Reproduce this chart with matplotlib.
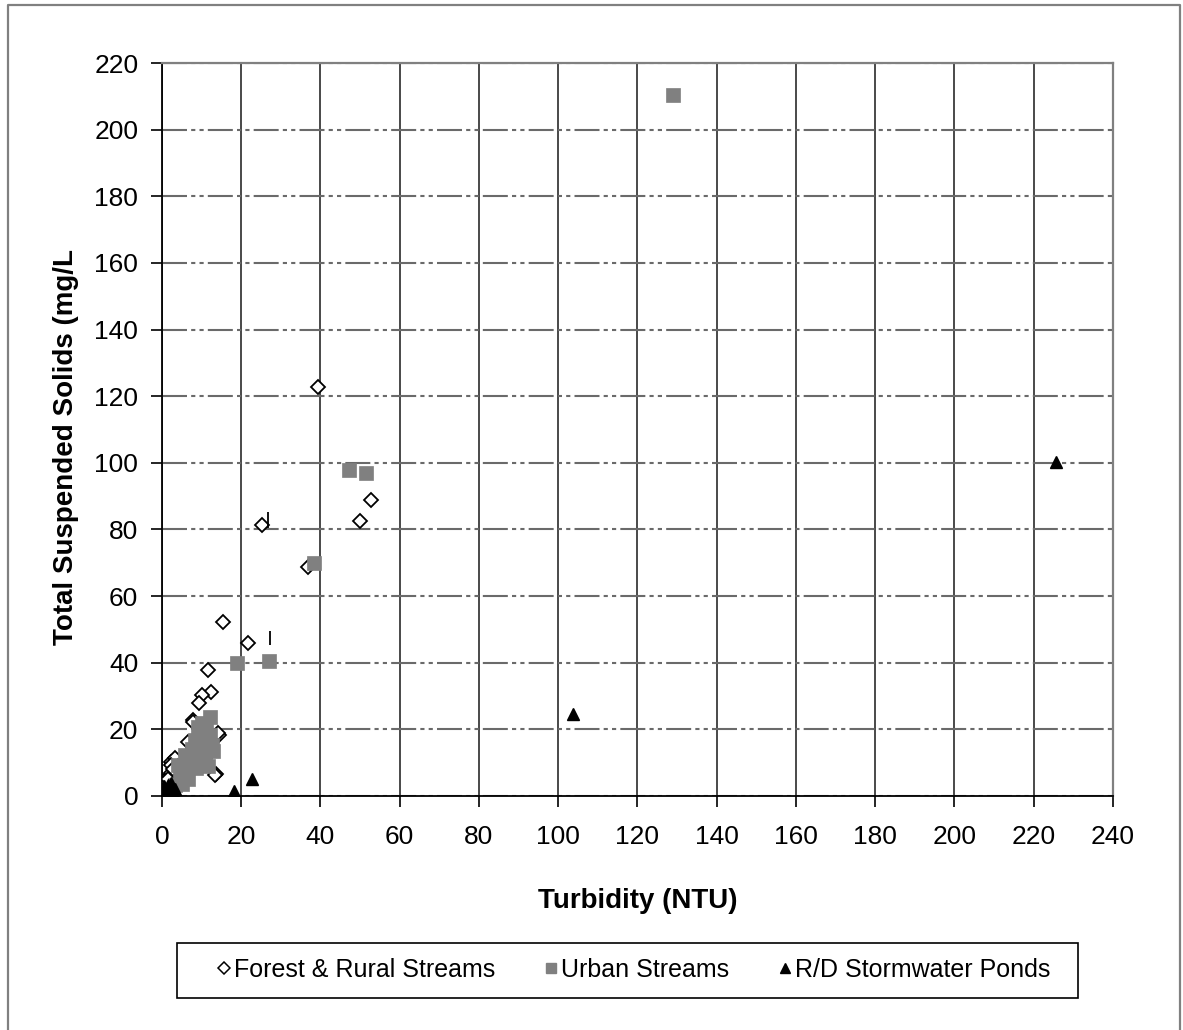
import matplotlib.pyplot as plt
from matplotlib.lines import Line2D
from matplotlib.patches import Rectangle

plt.rcParams['font.family'] = ['Liberation Sans', 'DejaVu Sans']

# Forest & Rural Streams
forest_x = [39.4, 25.2, 50.0, 52.7, 36.8, 15.4, 21.8, 11.5, 12.5, 10.2, 9.4, 14.5, 13.6,
            7.8, 2.4, 14.2, 12.5, 13.4, 7.9, 6.6, 3.3, 2.4,
            0.5, 1.0, 1.5, 2.0, 2.5, 3.0, 0.8, 1.2, 2.0, 3.5, 1.8, 0.3, 4.0,
            1.3, 2.2, 2.8, 0.6, 1.6, 3.8, 2.6, 0.9]
forest_y = [122.7, 81.3, 82.5, 88.8, 68.7, 52.2, 45.8, 37.8, 31.2, 30.3, 27.9, 18.3, 6.6,
            22.8, 10.3, 18.8, 13.3, 6.3, 22.3, 16.3, 11.4, 9.3,
            0.5, 1.5, 2.5, 4.0, 5.5, 7.0, 3.0, 0.8, 2.0, 4.5, 6.0, 1.8, 9.0,
            3.5, 6.8, 8.2, 2.2, 5.0, 2.8, 1.2, 0.2]

# Urban Streams
urban_x = [129.0, 47.2, 51.5, 38.4, 18.9, 27.0,
           12.1, 11.2, 10.9, 9.1, 8.3, 9.6, 12.6, 12.1, 13.0, 9.6, 7.1, 10.9, 5.8, 4.0,
           5.8, 4.5, 3.3, 2.0, 8.5, 6.5, 11.5, 7.5, 10.0, 5.0]
urban_y = [210.4, 97.8, 96.9, 69.9, 39.9, 40.5,
           23.7, 20.5, 18.9, 20.7, 16.8, 15.3, 15.3, 18.3, 13.5, 12.3, 10.8, 10.2, 12.3, 9.3,
           7.8, 6.3, 3.3, 1.8, 8.5, 5.0, 9.0, 14.0, 22.0, 3.5]

# R/D Stormwater Ponds
ponds_x = [225.6, 103.7, 22.7, 18.2, 0.3, 0.6, 1.0, 1.5, 2.0, 0.5, 2.5, 1.2, 0.8, 3.0, 1.8,
           1.4, 2.2, 0.4, 3.4]
ponds_y = [100.2, 24.6, 5.1, 1.5, 0.2, 0.5, 0.8, 1.0, 1.5, 1.5, 2.5, 2.0, 0.1, 0.8, 0.3,
           3.2, 4.0, 3.0, 2.0]

# small stray vertical marks in the original
marks_x = [27.2, 26.8]
marks_y0 = [45.3, 80.3]
marks_y1 = [49.6, 85.3]

fig = plt.figure(figsize=(11.83, 10.30), dpi=100)
ax = fig.add_axes([0.1369, 0.2272, 0.8039, 0.7116])

ax.plot(forest_x, forest_y, 'D', ms=7.5, mfc='white', mec='black', mew=1.3, zorder=3)
ax.plot(urban_x, urban_y, 's', ms=10.5, mfc='#808080', mec='#808080', mew=0.5, zorder=4)
ax.plot(ponds_x, ponds_y, '^', ms=9, mfc='black', mec='black', zorder=5)
ax.vlines(marks_x, marks_y0, marks_y1, colors='black', lw=1.3, zorder=5)

ax.set_xlim(0, 240)
ax.set_ylim(0, 220)
ax.set_xticks(range(0, 241, 20))
ax.set_yticks(range(0, 221, 20))
ax.xaxis.grid(True, color='#3a3a3a', lw=1.3, ls='-', zorder=1)
ax.yaxis.grid(True, color='#6a6a6a', lw=1.5, dashes=(12, 2, 2, 2, 2, 2), zorder=1)
ax.set_axisbelow(True)
ax.tick_params(axis='both', labelsize=19, length=8, width=1.2, direction='out')
ax.tick_params(axis='y', pad=9)
ax.tick_params(axis='x', pad=13)
for s in ['left', 'bottom']:
    ax.spines[s].set_color('black')
    ax.spines[s].set_linewidth(1.3)
for s in ['top', 'right']:
    ax.spines[s].set_color('#808080')
    ax.spines[s].set_linewidth(1.6)

ax.set_xlabel('Turbidity (NTU)', fontsize=20, fontweight='bold')
ax.set_ylabel('Total Suspended Solids (mg/L', fontsize=20, fontweight='bold')
ax.xaxis.set_label_coords(0.5, -0.1255)
ax.yaxis.set_label_coords(-0.087, 0.476)

handles = [
    Line2D([], [], ls='none', marker='D', ms=6, mfc='white', mec='black', mew=1.1),
    Line2D([], [], ls='none', marker='s', ms=7.5, mfc='#808080', mec='#808080'),
    Line2D([], [], ls='none', marker='^', ms=7.5, mfc='black', mec='black'),
]
labels = ['Forest & Rural Streams', 'Urban Streams', 'R/D Stormwater Ponds']
fig.legend(handles, labels, loc='center', bbox_to_anchor=(634 / 1183, 1 - 970 / 1030),
           ncol=3, frameon=False, fontsize=18, handlelength=0.5, handletextpad=0.15,
           columnspacing=2.0)
fig.patches.append(Rectangle((177 / 1183, 1 - 998 / 1030), 901 / 1183, 55 / 1030,
                             transform=fig.transFigure, fill=False, ec='black', lw=1.2))

# outer chart frame
fig.add_artist(Line2D([8 / 1183, 8 / 1183, 1180 / 1183, 1180 / 1183],
                      [0, 1 - 5 / 1030, 1 - 5 / 1030, 0],
                      transform=fig.transFigure, color='#808080', lw=1.6))

fig.savefig('out.png', dpi=100)
